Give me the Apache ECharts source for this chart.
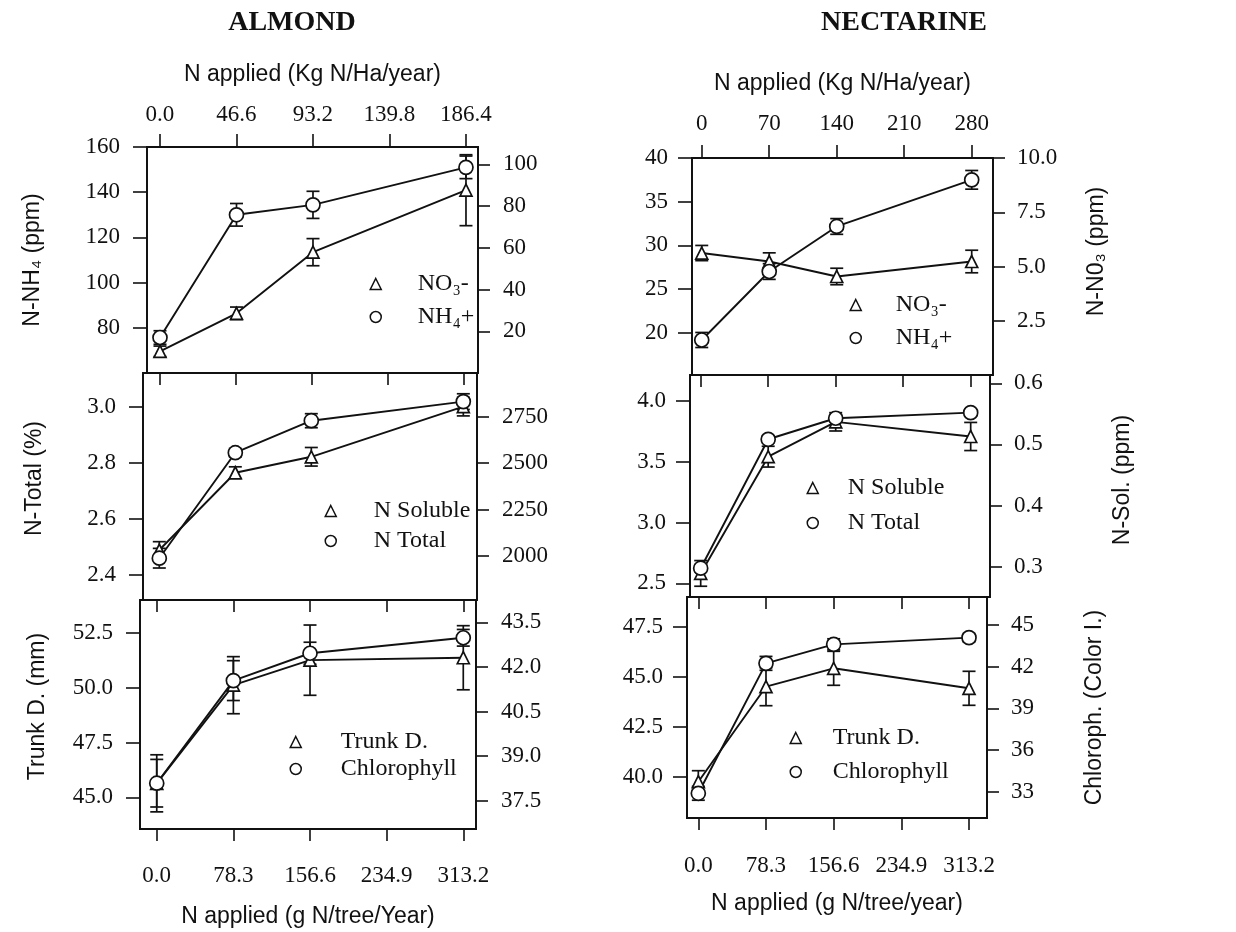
<!DOCTYPE html>
<html><head><meta charset="utf-8">
<script src="https://cdn.jsdelivr.net/npm/echarts@6/dist/echarts.min.js"></script>
<style>html,body{margin:0;padding:0;background:#fff}#c{width:1236px;height:932px}</style>
</head><body><div id="c"></div>
<script>
// ---------- data ----------
const nApplied = [0, 78.3, 156.6, 313.2];            // g N/tree/year
const gTicks = [0, 78.3, 156.6, 234.9, 313.2];
const almondKgTicks = [0, 46.6, 93.2, 139.8, 186.4];
const nectKgTicks = [0, 70, 140, 210, 280];

// Almond
const almondNH4 = [75.7, 130, 134.4, 151];
const almondNH4Err = [3, 5, 6, 5];
const almondNO3 = [10.4, 28.6, 57.9, 87.6];
const almondNO3Err = [2.5, 3, 6.5, 17];
const almondNTotal = [2.46, 2.836, 2.95, 3.018];
const almondNTotalErr = [0.035, 0.015, 0.025, 0.028];
const almondNSol = [2032, 2448, 2534, 2804];
const almondNSolErr = [45, 32, 50, 50];
const almondTrunk = [45.64, 50.11, 51.25, 51.36];
const almondTrunkErr = [1.3, 1.3, 1.6, 1.46];
const almondChl = [38.09, 41.54, 42.46, 42.98];
const almondChlErr = [0.8, 0.67, 0.37, 0.28];

// Nectarine
const nectNH4 = [19.16, 27.0, 32.16, 37.5];
const nectNH4Err = [0.86, 0.9, 0.9, 1.07];
const nectNO3 = [5.62, 5.23, 4.54, 5.23];
const nectNO3Err = [0.35, 0.4, 0.38, 0.52];
const nectNTotal = [2.624, 3.685, 3.858, 3.904];
const nectNTotalErr = [0.03, 0.03, 0.03, 0.03];
const nectNSol = [0.289, 0.48, 0.537, 0.513];
const nectNSolErr = [0.021, 0.017, 0.015, 0.023];
const nectTrunk = [39.75, 44.5, 45.42, 44.42];
const nectTrunkErr = [0.55, 0.95, 0.85, 0.85];
const nectChl = [32.88, 42.24, 43.61, 44.09];
const nectChlErr = [0.5, 0.5, 0.4, 0.3];

// tick labels
const aNH4Ticks = [80, 100, 120, 140, 160];
const aNO3Ticks = [20, 40, 60, 80, 100];
const aNTotTicks = [2.4, 2.6, 2.8, 3.0];
const aNSolTicks = [2000, 2250, 2500, 2750];
const aTrunkTicks = [45, 47.5, 50, 52.5];
const aChlTicks = [37.5, 39, 40.5, 42, 43.5];
const nNH4Ticks = [20, 25, 30, 35, 40];
const nNO3Ticks = [2.5, 5, 7.5, 10];
const nNTotTicks = [2.5, 3, 3.5, 4];
const nNSolTicks = [0.3, 0.4, 0.5, 0.6];
const nTrunkTicks = [40, 42.5, 45, 47.5];
const nChlTicks = [33, 36, 39, 42, 45];

// ---------- layout / style ----------
const INK = '#111';
const SERIF = '"Liberation Serif", "DejaVu Serif", serif';
const SANS = '"Liberation Sans", Arial, sans-serif';
const TICKFS = 23, NAMEFS = 23, LEGFS = 24;

const panels = [
  {grid:[147,147,331,226], x:[-13.3,325.5], pos:'top', kg:{ticks:almondKgTicks, f:186.4/313.2, dec:1, margin:21, gap:61},
   yL:{min:60,max:160,ticks:aNH4Ticks,dec:0,margin:27,name:'N-NH₄ (ppm)',gap:103,pad:0},
   yR:{min:0,max:108.3,ticks:aNO3Ticks,dec:0,margin:25},
   s:[{name:'NO₃-',sym:'triangle',ax:1,v:almondNO3,e:almondNO3Err},{name:'NH₄+',sym:'circle',ax:0,v:almondNH4,e:almondNH4Err}],
   leg:{left:364.5,top:267,gap:9,pad:31.5}},
  {grid:[143,373,334,227], x:[-16.8,327.3], pos:'mid',
   yL:{min:2.311,max:3.12,ticks:aNTotTicks,dec:1,margin:27,name:'N-Total (%)',gap:97,pad:16},
   yR:{min:1763,max:2985,ticks:aNSolTicks,dec:0,margin:25},
   s:[{name:'N Soluble',sym:'triangle',ax:1,v:almondNSol,e:almondNSolErr},{name:'N Total',sym:'circle',ax:0,v:almondNTotal,e:almondNTotalErr}],
   leg:{left:319.5,top:494,gap:6,pad:32.5}},
  {grid:[140,600,336,229], x:[-17.1,326.2], pos:'bottom', bottom:{name:'N applied (g N/tree/Year)', margin:35, gap:76},
   yL:{min:43.56,max:53.99,ticks:aTrunkTicks,dec:1,margin:27,name:'Trunk D. (mm)',gap:91,pad:16},
   yR:{min:36.55,max:44.25,ticks:aChlTicks,dec:1,margin:25},
   s:[{name:'Trunk D.',sym:'triangle',ax:0,v:almondTrunk,e:almondTrunkErr},{name:'Chlorophyll',sym:'circle',ax:1,v:almondChl,e:almondChlErr}],
   leg:{left:284.5,top:725,gap:3,pad:34.5}},
  {grid:[692,158,301,217], x:[-11.3,337.9], pos:'top', kg:{ticks:nectKgTicks, f:280/313.2, dec:0, margin:23, gap:63},
   yL:{min:15.15,max:40,ticks:nNH4Ticks,dec:0,margin:24},
   yR:{min:0,max:10,ticks:nNO3Ticks,dec:1,margin:24,name:'N-N0₃ (ppm)',gap:92,pad:30},
   s:[{name:'NO₃-',sym:'triangle',ax:1,v:nectNO3,e:nectNO3Err},{name:'NH₄+',sym:'circle',ax:0,v:nectNH4,e:nectNH4Err}],
   leg:{left:844.5,top:288,gap:9,pad:29.5}},
  {grid:[690,375,300,222], x:[-12.4,335.6], pos:'mid',
   yL:{min:2.387,max:4.214,ticks:nNTotTicks,dec:1,margin:24},
   yR:{min:0.2504,max:0.6136,ticks:nNSolTicks,dec:1,margin:24,name:'N-Sol. (ppm)',gap:121,pad:12},
   s:[{name:'N Soluble',sym:'triangle',ax:1,v:nectNSol,e:nectNSolErr},{name:'N Total',sym:'circle',ax:0,v:nectNTotal,e:nectNTotalErr}],
   leg:{left:801.5,top:471,gap:11,pad:24.5}},
  {grid:[687,597,300,221], x:[-13.1,334.0], pos:'bottom', bottom:{name:'N applied (g N/tree/year)', margin:36, gap:74},
   yL:{min:37.935,max:48.985,ticks:nTrunkTicks,dec:1,margin:24},
   yR:{min:31.1,max:47.02,ticks:nChlTicks,dec:0,margin:24,name:'Chloroph. (Color I.)',gap:96,pad:0},
   s:[{name:'Trunk D.',sym:'triangle',ax:0,v:nectTrunk,e:nectTrunkErr},{name:'Chlorophyll',sym:'circle',ax:1,v:nectChl,e:nectChlErr}],
   leg:{left:784.5,top:721,gap:10,pad:26.5}}
];

const tickLine = {color: INK, width: 1.6};
const labelStyle = (dec, margin) => ({
  fontFamily: SERIF, fontSize: TICKFS, color: INK, margin,
  formatter: v => Number(v).toFixed(dec)
});

function renderErr(params, api) {
  const x = api.value(0);
  const a = api.coord([x, api.value(1)]);
  const b = api.coord([x, api.value(2)]);
  const h = 6.5;
  const st = {stroke: INK, lineWidth: 1.7};
  return {type: 'group', children: [
    {type: 'line', shape: {x1: a[0], y1: a[1], x2: b[0], y2: b[1]}, style: st},
    {type: 'line', shape: {x1: a[0] - h, y1: a[1], x2: a[0] + h, y2: a[1]}, style: st},
    {type: 'line', shape: {x1: b[0] - h, y1: b[1], x2: b[0] + h, y2: b[1]}, style: st}
  ]};
}

const grid = [], xAxis = [], yAxis = [], series = [], legend = [];
panels.forEach((p, i) => {
  grid.push({left: p.grid[0], top: p.grid[1], width: p.grid[2], height: p.grid[3],
    show: true, borderColor: INK, borderWidth: 1.8, backgroundColor: 'transparent'});
  const dataX = xAxis.length;
  if (p.pos === 'top') {
    xAxis.push({type: 'value', gridIndex: i, min: p.x[0], max: p.x[1], position: 'bottom', show: false,
      axisLine: {onZero: false}});
    const k = p.kg;
    xAxis.push({type: 'value', gridIndex: i, min: p.x[0] * k.f, max: p.x[1] * k.f, position: 'top',
      axisLine: {show: true, onZero: false, lineStyle: {color: INK, width: 1.8}},
      axisTick: {show: true, length: 13, customValues: k.ticks, lineStyle: tickLine},
      axisLabel: Object.assign({customValues: k.ticks}, labelStyle(k.dec, k.margin)),
      splitLine: {show: false},
      name: 'N applied (Kg N/Ha/year)', nameLocation: 'middle', nameGap: k.gap,
      nameTextStyle: {fontFamily: SANS, fontSize: NAMEFS, color: INK}});
  } else {
    xAxis.push({type: 'value', gridIndex: i, min: p.x[0], max: p.x[1], position: 'top',
      axisLine: {show: false, onZero: false},
      axisTick: {show: true, inside: true, length: 12, customValues: gTicks, lineStyle: tickLine},
      axisLabel: {show: false}, splitLine: {show: false}});
    if (p.pos === 'bottom') {
      const b = p.bottom;
      xAxis.push({type: 'value', gridIndex: i, min: p.x[0], max: p.x[1], position: 'bottom',
        axisLine: {show: true, onZero: false, lineStyle: {color: INK, width: 1.8}},
        axisTick: {show: true, length: 12, customValues: gTicks, lineStyle: tickLine},
        axisLabel: Object.assign({customValues: gTicks}, labelStyle(1, b.margin)),
        splitLine: {show: false},
        name: b.name, nameLocation: 'middle', nameGap: b.gap,
        nameTextStyle: {fontFamily: SANS, fontSize: NAMEFS, color: INK}});
    }
  }
  const yIdx = [];
  [['left', p.yL, 14], ['right', p.yR, 12]].forEach(([side, y, tl]) => {
    yIdx.push(yAxis.length);
    const ax = {type: 'value', gridIndex: i, position: side, min: y.min, max: y.max,
      axisLine: {show: true, onZero: false, lineStyle: {color: INK, width: 1.8}},
      axisTick: {show: true, length: tl, customValues: y.ticks, lineStyle: tickLine},
      axisLabel: Object.assign({customValues: y.ticks}, labelStyle(y.dec, y.margin)),
      splitLine: {show: false}};
    if (y.name) {
      Object.assign(ax, {name: y.name, nameLocation: 'middle', nameRotate: 90, nameGap: y.gap,
        nameTextStyle: {fontFamily: SANS, fontSize: NAMEFS, color: INK, padding: [0, 0, 0, y.pad]}});
    }
    yAxis.push(ax);
  });
  p.s.forEach(s => {
    series.push({type: 'custom', xAxisIndex: dataX, yAxisIndex: yIdx[s.ax], renderItem: renderErr,
      encode: {x: 0, y: [1, 2]}, z: 1, silent: true, clip: false,
      data: nApplied.map((x, j) => [x, s.v[j] - s.e[j], s.v[j] + s.e[j]])});
    series.push({type: 'line', name: s.name, xAxisIndex: dataX, yAxisIndex: yIdx[s.ax],
      data: nApplied.map((x, j) => [x, s.v[j]]),
      symbol: s.sym, symbolSize: s.sym === 'circle' ? 14 : 12, showAllSymbol: true,
      lineStyle: {color: INK, width: 1.9},
      itemStyle: {color: '#fff', borderColor: INK, borderWidth: 1.7},
      emphasis: {disabled: true}, z: 3});
  });
  legend.push({orient: 'vertical', left: p.leg.left, top: p.leg.top, itemGap: p.leg.gap,
    itemWidth: 11, itemHeight: 11, selectedMode: false,
    itemStyle: {color: '#fff', borderColor: INK, borderWidth: 1.5},
    textStyle: {fontFamily: SERIF, fontSize: LEGFS, color: INK, lineHeight: 24, padding: [0, 0, 0, p.leg.pad]},
    data: p.s.map(s => ({name: s.name, icon: s.sym}))});
});

const chart = echarts.init(document.getElementById('c'), null, {renderer: 'canvas'});
chart.setOption({
  animation: false,
  backgroundColor: '#fff',
  grid, xAxis, yAxis, series, legend,
  graphic: [
    {type: 'text', x: 292, y: 23, style: {text: 'ALMOND', textAlign: 'center', textVerticalAlign: 'middle',
      fontFamily: SERIF, fontSize: 28, fontWeight: 'bold', fill: INK}},
    {type: 'text', x: 904, y: 23, style: {text: 'NECTARINE', textAlign: 'center', textVerticalAlign: 'middle',
      fontFamily: SERIF, fontSize: 28, fontWeight: 'bold', fill: INK}}
  ]
});
</script></body></html>
